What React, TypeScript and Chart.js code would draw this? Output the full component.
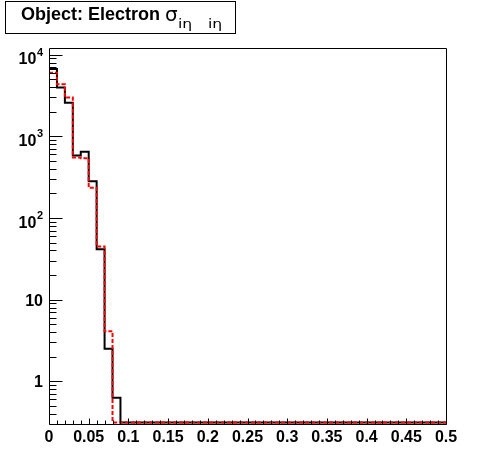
import React, { useEffect, useRef } from "react";
import { Chart, registerables } from "chart.js";

Chart.register(...registerables);

// ---- data ----
const binEdges = [
  0, 0.01, 0.02, 0.03, 0.04, 0.05, 0.06, 0.07, 0.08, 0.09,
  0.1, 0.11, 0.12, 0.13, 0.14, 0.15, 0.16, 0.17, 0.18, 0.19,
  0.2, 0.21, 0.22, 0.23, 0.24, 0.25, 0.26, 0.27, 0.28, 0.29,
  0.3, 0.31, 0.32, 0.33, 0.34, 0.35, 0.36, 0.37, 0.38, 0.39,
  0.4, 0.41, 0.42, 0.43, 0.44, 0.45, 0.46, 0.47, 0.48, 0.49, 0.5,
];
const blackCounts = [
  6690, 3960, 2580, 582, 650, 282, 41.5, 2.5, 0.63, 0,
  0, 0, 0, 0, 0, 0, 0, 0, 0, 0,
  0, 0, 0, 0, 0, 0, 0, 0, 0, 0,
  0, 0, 0, 0, 0, 0, 0, 0, 0, 0,
  0, 0, 0, 0, 0, 0, 0, 0, 0, 0,
];
const redCounts = [
  6030, 4360, 2990, 550, 540, 234, 44.8, 4.1, 0, 0,
  0, 0, 0, 0, 0, 0, 0, 0, 0, 0,
  0, 0, 0, 0, 0, 0, 0, 0, 0, 0,
  0, 0, 0, 0, 0, 0, 0, 0, 0, 0,
  0, 0, 0, 0, 0, 0, 0, 0, 0, 0,
];
const xTickValues = [0, 0.05, 0.1, 0.15, 0.2, 0.25, 0.3, 0.35, 0.4, 0.45, 0.5];
const xTickLabels = ["0", "0.05", "0.1", "0.15", "0.2", "0.25", "0.3", "0.35", "0.4", "0.45", "0.5"];
const xMinorTicks = binEdges;
const yTickValues = [1, 10, 100, 1000, 10000];
const yTickBase = ["1", "10", "10", "10", "10"];
const yTickExp = ["", "", "2", "3", "4"];
const yMinorDecades = [0.1, 1, 10, 100, 1000, 10000];
const yMinorMultipliers = [2, 3, 4, 5, 6, 7, 8, 9];

const X_MIN = 0;
const X_MAX = 0.5;
const Y_MIN = 0.313;
const Y_MAX = 12080;

const FONT = '"Liberation Sans", Arial, Helvetica, sans-serif';

// Histogram outline: one point at the left edge, then one point per bin at
// its right edge; Chart.js 'after' stepping draws the bin level across the bin.
function toSteps(counts: number[]) {
  const pts: { x: number; y: number }[] = [];
  pts.push({ x: binEdges[0], y: counts[0] > 0 ? counts[0] : Y_MIN });
  counts.forEach((v, i) => {
    pts.push({ x: binEdges[i + 1], y: v > 0 ? v : Y_MIN });
  });
  return pts;
}

const rootPlugin = {
  id: "rootFrame",
  afterDraw(chart: any) {
    const ctx = chart.ctx as CanvasRenderingContext2D;
    const { left, right, top, bottom } = chart.chartArea;
    const xs = chart.scales.x;
    const ys = chart.scales.y;
    ctx.save();
    ctx.strokeStyle = "#000";
    ctx.fillStyle = "#000";
    ctx.lineWidth = 1;
    const L = Math.round(left) + 0.5;
    const R = Math.round(right) + 0.5;
    const T = Math.round(top) + 0.5;
    const B = Math.round(bottom) + 0.5;
    ctx.beginPath();
    ctx.moveTo(L, T);
    ctx.lineTo(R, T);
    ctx.lineTo(R, B);
    ctx.lineTo(L, B);
    ctx.closePath();
    ctx.stroke();

    // x ticks
    ctx.beginPath();
    xMinorTicks.forEach((v) => {
      const px = Math.round(xs.getPixelForValue(v)) + 0.5;
      const major = xTickValues.some((t) => Math.abs(t - v) < 1e-9);
      const len = major ? 6 : 4;
      ctx.moveTo(px, B);
      ctx.lineTo(px, B - len);
    });
    // y ticks
    yTickValues.forEach((v) => {
      const py = Math.round(ys.getPixelForValue(v)) + 0.5;
      ctx.moveTo(L, py);
      ctx.lineTo(L + 13, py);
    });
    yMinorDecades.forEach((d) => {
      yMinorMultipliers.forEach((m) => {
        const v = d * m;
        if (v < Y_MIN || v > Y_MAX) return;
        const py = Math.round(ys.getPixelForValue(v)) + 0.5;
        ctx.moveTo(L, py);
        ctx.lineTo(L + 7, py);
      });
    });
    ctx.stroke();

    // x labels
    ctx.font = `bold 16px ${FONT}`;
    ctx.textAlign = "center";
    ctx.textBaseline = "alphabetic";
    xTickValues.forEach((v, i) => {
      ctx.fillText(xTickLabels[i], xs.getPixelForValue(v), bottom + 18);
    });

    // y labels
    const rightEdge = left - 6;
    yTickValues.forEach((v, i) => {
      const py = ys.getPixelForValue(v);
      const base = yTickBase[i];
      const exp = yTickExp[i];
      if (exp) {
        ctx.font = `bold 11px ${FONT}`;
        ctx.textAlign = "right";
        const ew = ctx.measureText(exp).width;
        ctx.fillText(exp, rightEdge, py + 1);
        ctx.font = `bold 16px ${FONT}`;
        ctx.fillText(base, rightEdge - ew - 0.5, py + 9.5);
      } else {
        ctx.font = `bold 16px ${FONT}`;
        ctx.textAlign = "right";
        ctx.fillText(base, rightEdge, py + 6);
      }
    });

    // title box
    ctx.fillStyle = "#fff";
    ctx.fillRect(5, 1, 231, 32);
    ctx.strokeRect(5.5, 1.5, 230, 32);
    ctx.fillStyle = "#000";
    ctx.textAlign = "left";
    ctx.font = `bold 18px ${FONT}`;
    ctx.fillText("Object: Electron", 21, 20);
    ctx.font = `20px "DejaVu Sans", ${FONT}`;
    ctx.fillText("σ", 165, 21);
    ctx.font = `13px "DejaVu Sans", ${FONT}`;
    ctx.save();
    ctx.translate(178, 28);
    ctx.scale(1.2, 1);
    ctx.fillText("iη", 0, 0);
    ctx.fillText("iη", 25, 0);
    ctx.restore();
    ctx.restore();
  },
};

export default function App() {
  const ref = useRef<HTMLCanvasElement | null>(null);
  useEffect(() => {
    document.body.style.margin = "0";
    const canvas = ref.current;
    if (!canvas) return;
    const chart = new Chart(canvas, {
      type: "line",
      data: {
        datasets: [
          {
            label: "red",
            data: toSteps(redCounts),
            borderColor: "#ff0000",
            borderWidth: 2,
            borderDash: [4, 2],
            stepped: "after",
            pointRadius: 0,
            fill: false,
            clip: 3,
          },
          {
            label: "black",
            data: toSteps(blackCounts),
            borderColor: "#000000",
            borderWidth: 2,
            stepped: "after",
            pointRadius: 0,
            fill: false,
            clip: 3,
          },
        ],
      } as any,
      options: {
        responsive: false,
        animation: false,
        devicePixelRatio: 1,
        events: [],
        layout: { padding: { left: 49, top: 48, right: 50, bottom: 48 } },
        plugins: {
          legend: { display: false },
          tooltip: { enabled: false },
          title: { display: false },
        },
        scales: {
          x: { type: "linear", min: X_MIN, max: X_MAX, display: false },
          y: { type: "logarithmic", min: Y_MIN, max: Y_MAX, display: false },
        },
      } as any,
      plugins: [rootPlugin],
    });
    return () => chart.destroy();
  }, []);
  return (
    <div style={{ position: "fixed", left: 0, top: 0, width: 496, height: 472, background: "#fff" }}>
      <canvas ref={ref} width={496} height={472} style={{ width: 496, height: 472, display: "block" }} />
    </div>
  );
}
